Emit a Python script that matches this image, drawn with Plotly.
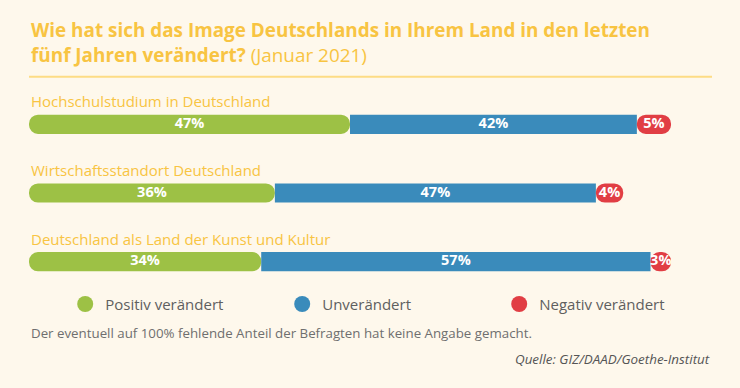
import plotly.graph_objects as go

categories = ["Hochschulstudium in Deutschland", "Wirtschaftsstandort Deutschland",
              "Deutschland als Land der Kunst und Kultur"]
positiv = [47, 36, 34]
unveraendert = [42, 47, 57]
negativ = [5, 4, 3]
series_names = ["Positiv verändert", "Unverändert", "Negativ verändert"]
colors = ["#9dc145", "#3a8bbb", "#e13e44"]

BG = "#fef8ec"
YEL = "#f8c442"
FONT = "Open Sans"

ypos = list(range(len(categories)))
bw = 0.28

fig = go.Figure()
# green: drawn from its right end back to 0 so the rounded end sits on the left
fig.add_trace(go.Bar(y=ypos, x=[-v for v in positiv], base=positiv, orientation="h",
                     width=bw, marker=dict(color=colors[0], cornerradius="50%", line_width=0),
                     showlegend=False, hoverinfo="skip"))
fig.add_trace(go.Bar(y=ypos, x=unveraendert, base=positiv, orientation="h",
                     width=bw, marker=dict(color=colors[1], cornerradius=0, line_width=0),
                     showlegend=False, hoverinfo="skip"))
base_neg = [p + u for p, u in zip(positiv, unveraendert)]
fig.add_trace(go.Bar(y=ypos, x=negativ, base=base_neg, orientation="h",
                     width=bw, marker=dict(color=colors[2], cornerradius="50%", line_width=0),
                     showlegend=False, hoverinfo="skip"))

# value labels
for vals, bases in [(positiv, [0] * 3), (unveraendert, positiv), (negativ, base_neg)]:
    fig.add_trace(go.Scatter(
        y=ypos, x=[b + v / 2 for b, v in zip(bases, vals)], mode="text",
        text=[f"{v}%" for v in vals],
        textfont=dict(family=FONT, size=14.5, color="white", weight="bold"),
        showlegend=False, hoverinfo="skip"))

# legend entries
for name, c in zip(series_names, colors):
    fig.add_trace(go.Scatter(x=[None], y=[None], mode="markers", name=name,
                             marker=dict(color=c, size=18, symbol="circle")))

annotations = []
for i, cat in enumerate(categories):
    annotations.append(dict(x=0, y=i, xref="x", yref="y", text=cat, showarrow=False,
                            xanchor="left", yanchor="middle", yshift=23,
                            font=dict(family=FONT, size=15, color=YEL, weight=500)))
annotations.append(dict(
    x=0, y=1.0, xref="paper", yref="paper", xanchor="left", yanchor="bottom", align="left",
    yshift=20, showarrow=False,
    text="<b>Wie hat sich das Image Deutschlands in Ihrem Land in den letzten</b><br>"
         "<b>fünf Jahren verändert?</b> (Januar 2021)",
    font=dict(family=FONT, size=18.9, color=YEL)))
annotations.append(dict(
    x=0, y=0, xref="paper", yref="paper", xanchor="left", yanchor="middle",
    yshift=-37, showarrow=False,
    text="Der eventuell auf 100% fehlende Anteil der Befragten hat keine Angabe gemacht.",
    font=dict(family=FONT, size=13.3, color="#6f6f6f")))
annotations.append(dict(
    x=1, y=0, xref="paper", yref="paper", xanchor="right", yanchor="middle",
    yshift=-63, showarrow=False,
    text="<i>Quelle: GIZ/DAAD/Goethe-Institut</i>",
    font=dict(family=FONT, size=13.4, color="#555555")))

fig.update_layout(
    width=740, height=388,
    margin=dict(l=29, r=28, t=90.25, b=92.25),
    paper_bgcolor=BG, plot_bgcolor=BG,
    barmode="overlay",
    xaxis=dict(range=[0, 100], visible=False, fixedrange=True),
    yaxis=dict(range=[2.5, -0.5], visible=False, fixedrange=True),
    showlegend=True,
    legend=dict(orientation="h", x=0.053, xanchor="left", y=-0.04, yanchor="middle",
                entrywidth=172, entrywidthmode="pixels", itemsizing="trace",
                bgcolor="rgba(0,0,0,0)",
                font=dict(family=FONT, size=15, color="#5f5f5f")),
    annotations=annotations,
    shapes=[dict(type="line", xref="x", yref="paper", x0=0, x1=100, y0=1.0645, y1=1.0645,
                 line=dict(color="#fddc84", width=2))],
)

fig.write_html("out.html", config={"displayModeBar": False},
               post_script="document.body.style.margin='0';document.body.style.overflow='hidden';")
